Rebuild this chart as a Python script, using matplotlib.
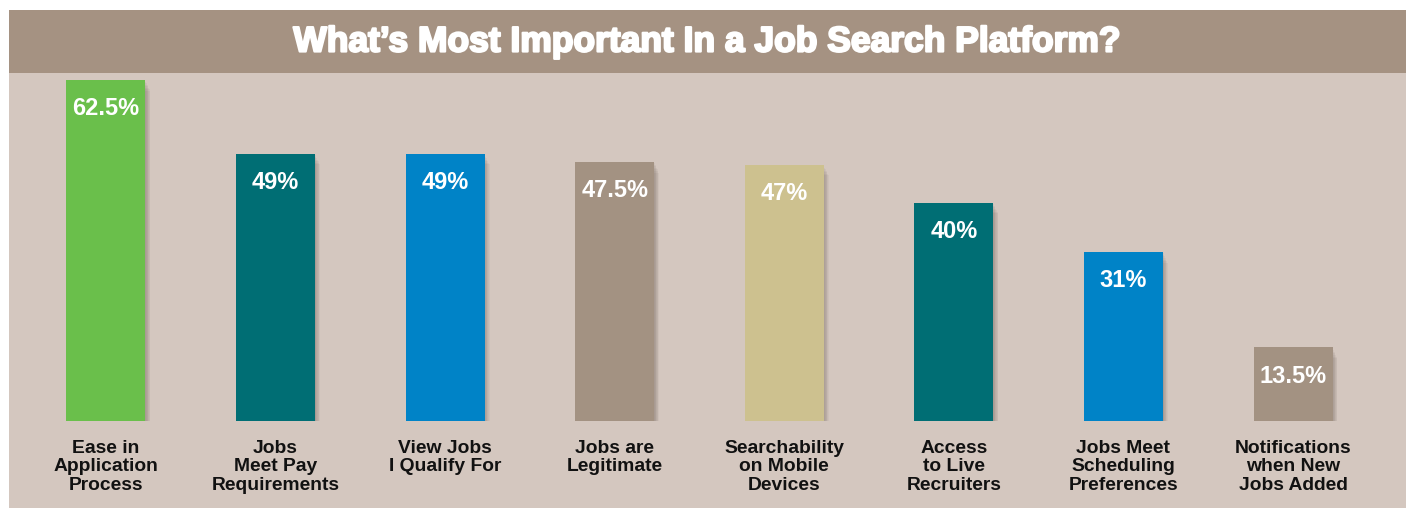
import matplotlib.pyplot as plt
import matplotlib.patheffects as pe
from matplotlib.patches import Rectangle

# survey results
categories = ["Ease in\nApplication\nProcess", "Jobs\nMeet Pay\nRequirements",
              "View Jobs\nI Qualify For", "Jobs are\nLegitimate",
              "Searchability\non Mobile\nDevices", "Access\nto Live\nRecruiters",
              "Jobs Meet\nScheduling\nPreferences", "Notifications\nwhen New\nJobs Added"]
values = [62.5, 49, 49, 47.5, 47, 40, 31, 13.5]
value_labels = ["62.5%", "49%", "49%", "47.5%", "47%", "40%", "31%", "13.5%"]
colors = ["#6abf4b", "#006e74", "#0083c7", "#a39282",
          "#cdc18f", "#006e74", "#0083c7", "#a39282"]

W, H = 1406, 508
plt.rcParams['font.family'] = ['Liberation Sans', 'DejaVu Sans']
fig = plt.figure(figsize=(W / 100, H / 100), dpi=100)
fig.patch.set_facecolor("white")

# beige panel + title band
fig.patches.append(Rectangle((9 / W, 0), 1, (H - 73) / H, transform=fig.transFigure,
                             facecolor="#d4c7bf", edgecolor="none", zorder=-2))
fig.patches.append(Rectangle((9 / W, (H - 73) / H), 1, 63 / H, transform=fig.transFigure,
                             facecolor="#a59282", edgecolor="none", zorder=-2))
fig.text(707 / W, (H - 42) / H, "What\u2019s Most Important In a Job Search Platform?",
         ha="center", va="center", color="white", fontsize=25.5, fontweight="bold",
         path_effects=[pe.withStroke(linewidth=1.6, foreground="white")])

# axes: y=0 at pixel 421 from top, 62.5% reaching pixel 80
ax = fig.add_axes([21.2 / W, 87 / H, (1377.8 - 21.2) / W, 341 / H])
ax.set_xlim(-0.5, 7.5)
ax.set_ylim(0, 62.5)
ax.axis("off")

# soft drop shadow under each bar
shadow = [pe.SimplePatchShadow(offset=(0.5 * k, -1.1 * k), shadow_rgbFace="#3a2a20", alpha=0.045)
          for k in range(1, 8)] + [pe.Normal()]
x = range(len(values))
bars = ax.bar(x, values, width=0.466, color=colors, zorder=2)
for b in bars:
    b.set_path_effects(shadow)

for i, (v, lab, cat) in enumerate(zip(values, value_labels, categories)):
    ax.annotate(lab, xy=(i, v), xytext=(0, -29), textcoords="offset pixels",
                ha="center", va="center", color="white", fontsize=17,
                fontweight="bold", zorder=3)
    ax.annotate(cat, xy=(i, 0), xytext=(0, -19), textcoords="offset pixels",
                ha="center", va="top", color="#111111", fontsize=13.9,
                fontweight="bold", linespacing=1.1, annotation_clip=False)

fig.savefig("out.png", dpi=100)
